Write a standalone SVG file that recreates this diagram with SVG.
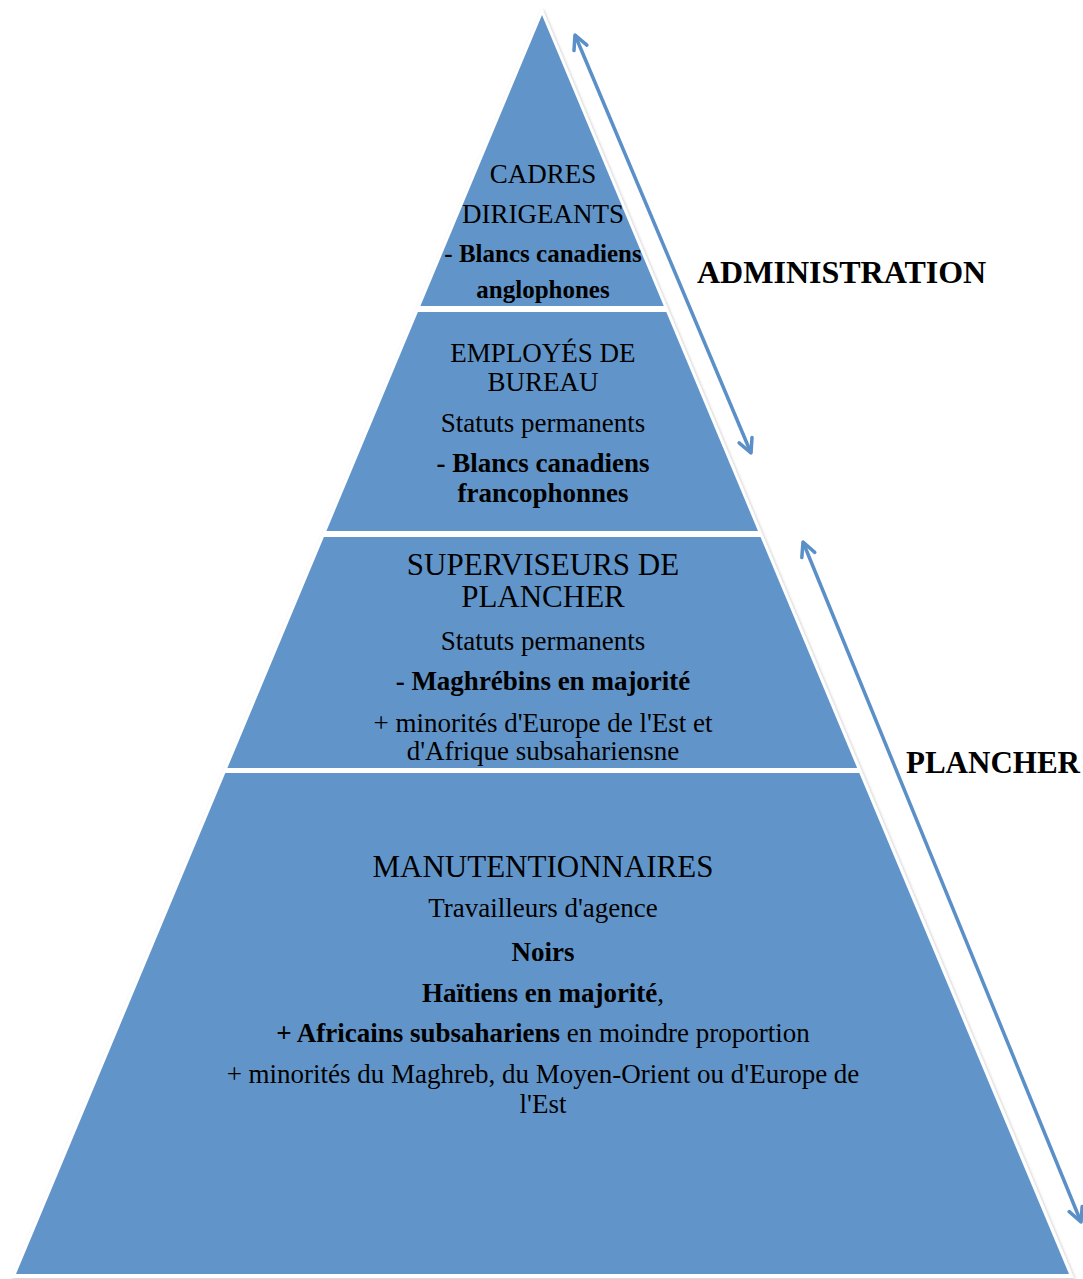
<svg xmlns="http://www.w3.org/2000/svg" width="1083" height="1279" viewBox="0 0 1083 1279">
<style>
.layer{fill:#6195C9;stroke:none}
.t{font-family:"Liberation Serif","Times New Roman",serif;font-size:27px;fill:#000;text-anchor:middle}
.h{font-size:31px}
.b{font-weight:bold}
.lbl{font-family:"Liberation Serif","Times New Roman",serif;font-size:32px;font-weight:bold;fill:#000}
.arr{stroke:#5B8FC8;stroke-width:3.5;fill:none;marker-start:url(#head);marker-end:url(#head)}
</style>
<defs>
<filter id="sh" x="-5%" y="-5%" width="110%" height="110%">
<feDropShadow dx="1" dy="1" stdDeviation="1.5" flood-color="#000" flood-opacity="0.25"/>
</filter>
<marker id="head" markerUnits="userSpaceOnUse" markerWidth="24" markerHeight="24" viewBox="0 0 24 24" refX="20" refY="12" orient="auto-start-reverse">
<path d="M6,5 L20,12 L6,19" fill="none" stroke="#5B8FC8" stroke-width="3.5" stroke-linecap="round" stroke-linejoin="round"/>
</marker>
</defs>
<rect width="1083" height="1279" fill="#fff"/>
<polygon points="542,8 1074,1278 11,1278" fill="#fff" filter="url(#sh)"/>
<g id="layer-cadres">
<polygon class="layer" points="542,15 663.8,306 420.4,306"/>
<text class="t" x="543" y="183">CADRES</text>
<text class="t" x="543" y="223">DIRIGEANTS</text>
<text class="t b" x="543" y="262" style="font-size:25px">- Blancs canadiens</text>
<text class="t b" x="543" y="298" style="font-size:25px">anglophones</text>
</g>
<g id="layer-employes">
<polygon class="layer" points="417.9,312 666.3,312 758,531 326.4,531"/>
<text class="t" x="543" y="362">EMPLOYÉS DE</text>
<text class="t" x="543" y="391">BUREAU</text>
<text class="t" x="543" y="432">Statuts permanents</text>
<text class="t b" x="543" y="472">- Blancs canadiens</text>
<text class="t b" x="543" y="502">francophonnes</text>
</g>
<g id="layer-superviseurs">
<polygon class="layer" points="323.9,537 760.5,537 857.2,768 227.4,768"/>
<text class="t h" x="543" y="575">SUPERVISEURS DE</text>
<text class="t h" x="543" y="607">PLANCHER</text>
<text class="t" x="543" y="650">Statuts permanents</text>
<text class="t b" x="543" y="690">- Maghrébins en majorité</text>
<text class="t" x="543" y="732">+ minorités d'Europe de l'Est et</text>
<text class="t" x="543" y="760">d'Afrique subsahariensne</text>
</g>
<g id="layer-manutentionnaires">
<polygon class="layer" points="225.3,773 859.3,773 1069,1274 16,1274"/>
<text class="t h" x="543" y="877">MANUTENTIONNAIRES</text>
<text class="t" x="543" y="917">Travailleurs d'agence</text>
<text class="t b" x="543" y="961">Noirs</text>
<text class="t" x="543" y="1002"><tspan class="b">Haïtiens en majorité</tspan>,</text>
<text class="t" x="543" y="1042"><tspan class="b">+ Africains subsahariens</tspan> en moindre proportion</text>
<text class="t" x="543" y="1083">+ minorités du Maghreb, du Moyen-Orient ou d'Europe de</text>
<text class="t" x="543" y="1113">l'Est</text>
</g>
<g id="connectors">
<line class="arr" x1="575" y1="35" x2="751" y2="453"/>
<line class="arr" x1="803" y1="542" x2="1081" y2="1222"/>
</g>
<g id="label-administration">
<text class="lbl" x="697" y="283">ADMINISTRATION</text>
</g>
<g id="label-plancher">
<text class="lbl" x="906" y="773" style="font-size:31px">PLANCHER</text>
</g>
</svg>
